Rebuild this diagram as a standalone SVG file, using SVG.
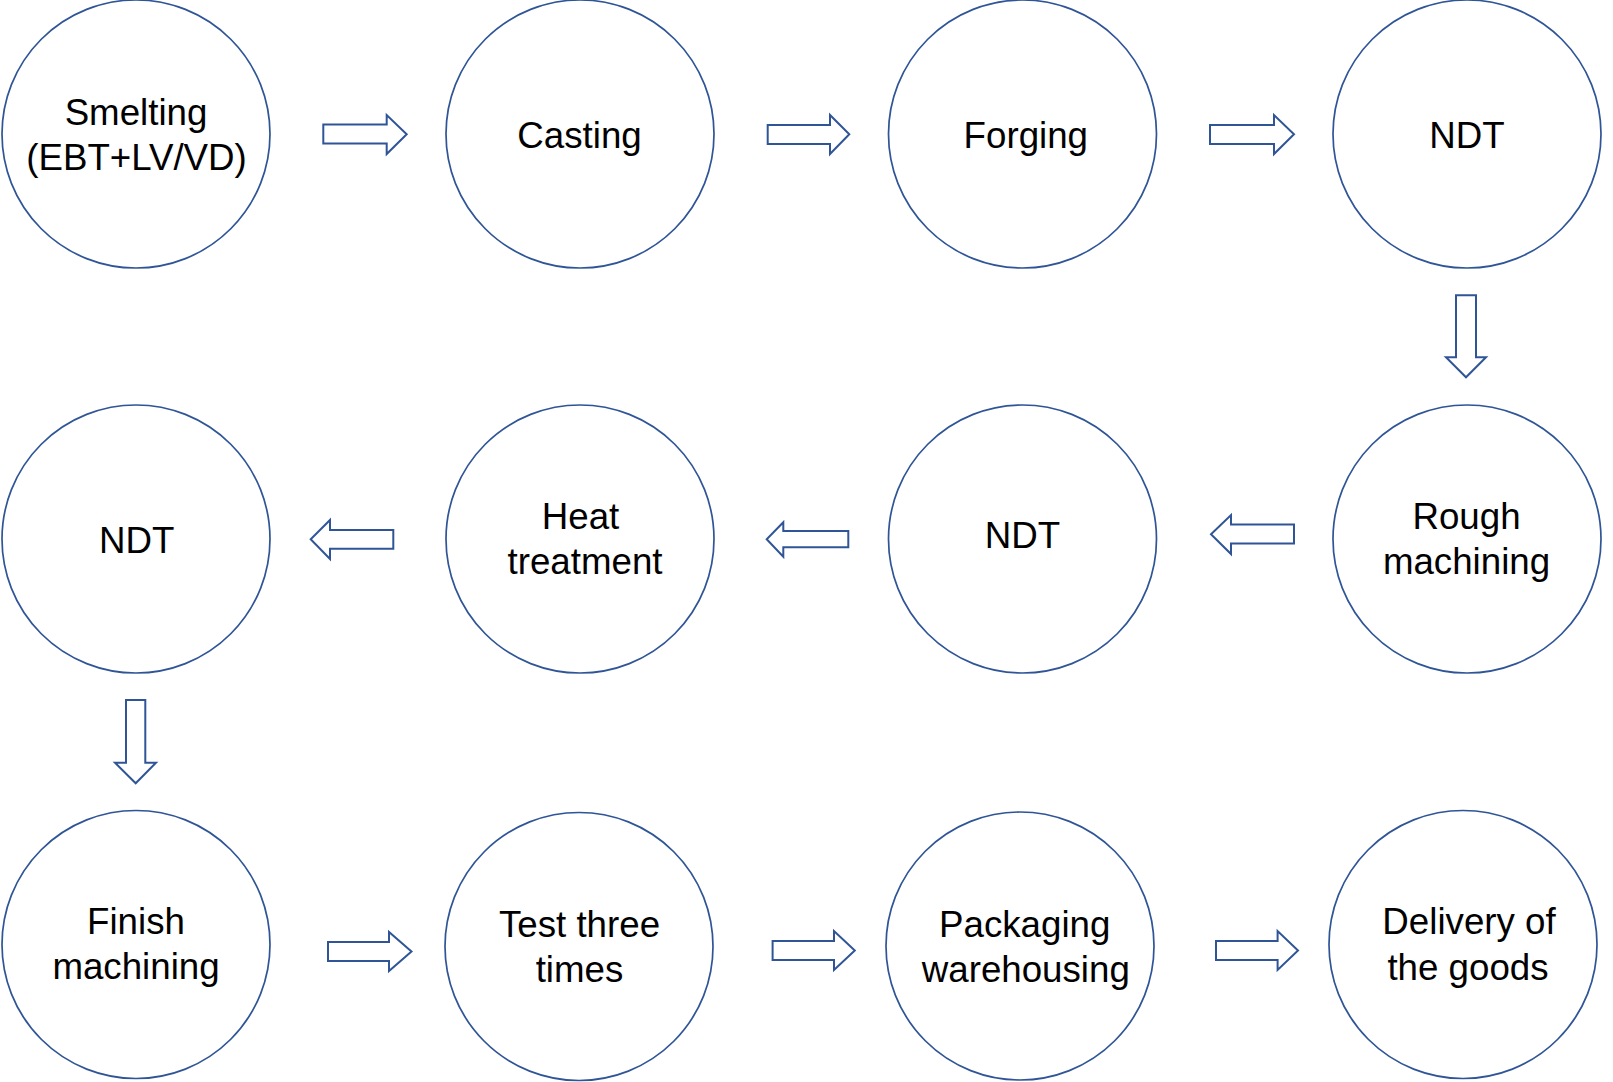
<svg xmlns="http://www.w3.org/2000/svg" width="1613" height="1082" viewBox="0 0 1613 1082">
<style>
.n{fill:#fff;stroke:#2F5597;stroke-width:1.7}
.a{fill:#fff;stroke:#2F5597;stroke-width:2;stroke-linejoin:miter}
text{font-family:"Liberation Sans",Arial,sans-serif;font-size:36.7px;fill:#000;text-anchor:middle}
</style>
<rect width="1613" height="1082" fill="#fff"/>
<g id="connectors">
<path class="a" d="M323.3,124.5 H386.7 V115 L406.7,134.3 L386.7,154 V143.5 H323.3 Z"/>
<path class="a" d="M767.7,125 H830 V115 L849.3,134.3 L830,154 V144 H767.7 Z"/>
<path class="a" d="M1210,125 H1274 V115 L1294,134.3 L1274,154 V144 H1210 Z"/>
<path class="a" d="M1456,295.3 H1476 V357.3 H1486 L1466,377.3 L1446,357.3 H1456 Z"/>
<path class="a" d="M1294,524.5 H1231 V515 L1211,534.3 L1231,554 V543.5 H1294 Z"/>
<path class="a" d="M848.3,531 H783.3 V522.3 L766.7,539.3 L783.3,556.7 V547.3 H848.3 Z"/>
<path class="a" d="M393.3,530 H330 V520 L310.7,539.3 L330,559 V548.7 H393.3 Z"/>
<path class="a" d="M126,700 H145.3 V762.7 H156 L135.7,783.3 L115,762.7 H126 Z"/>
<path class="a" d="M328,942 H389 V932 L411.5,951.5 L389,971 V961 H328 Z"/>
<path class="a" d="M772.6,941 H834 V931 L854.8,950.5 L834,970 V960 H772.6 Z"/>
<path class="a" d="M1216,941 H1277.6 V931 L1298,950.5 L1277.6,970 V960 H1216 Z"/>
</g>
<g id="n1"><circle class="n" cx="136" cy="134" r="134"/><text x="136" y="125">Smelting</text><text x="136.5" y="170">(EBT+LV/VD)</text></g>
<g id="n2"><circle class="n" cx="580" cy="134" r="134"/><text x="579.5" y="148">Casting</text></g>
<g id="n3"><circle class="n" cx="1022.5" cy="134" r="134"/><text x="1025.8" y="148">Forging</text></g>
<g id="n4"><circle class="n" cx="1467" cy="134" r="134"/><text x="1467" y="147.7">NDT</text></g>
<g id="n5"><circle class="n" cx="1467" cy="539" r="134"/><text x="1466.5" y="529.3">Rough</text><text x="1466.5" y="574">machining</text></g>
<g id="n6"><circle class="n" cx="1022.5" cy="539" r="134"/><text x="1022.5" y="547.7">NDT</text></g>
<g id="n7"><circle class="n" cx="580" cy="539" r="134"/><text x="580.5" y="529.3">Heat</text><text x="585" y="574">treatment</text></g>
<g id="n8"><circle class="n" cx="136" cy="539" r="134"/><text x="136.7" y="553.3">NDT</text></g>
<g id="n9"><circle class="n" cx="136" cy="944.5" r="134"/><text x="136" y="933.7">Finish</text><text x="136" y="979">machining</text></g>
<g id="n10"><circle class="n" cx="579" cy="946.5" r="134"/><text x="579.5" y="937">Test three</text><text x="579.5" y="982">times</text></g>
<g id="n11"><circle class="n" cx="1020" cy="946" r="134"/><text x="1024.7" y="936.7">Packaging</text><text x="1025.8" y="981.7">warehousing</text></g>
<g id="n12"><circle class="n" cx="1463" cy="944.5" r="134"/><text x="1469" y="934">Delivery of</text><text x="1468" y="980">the goods</text></g>
</svg>
